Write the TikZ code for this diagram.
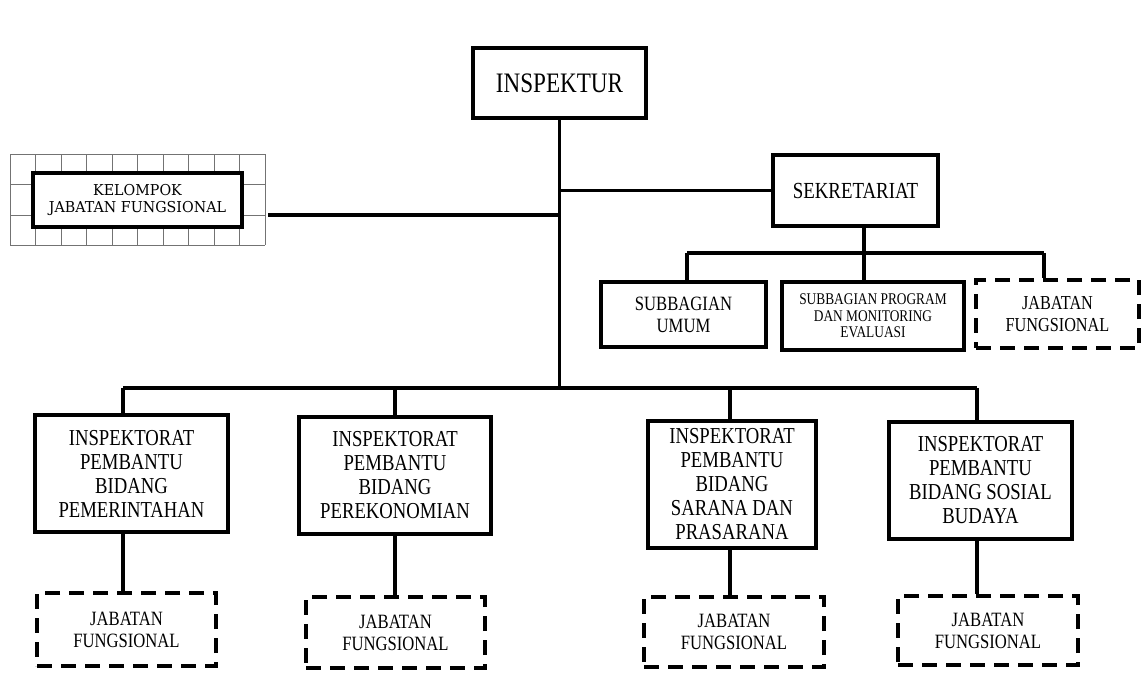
\documentclass[tikz,border=0pt]{standalone}
\usepackage{fontspec}
\setmainfont{Liberation Serif}[FakeStretch=0.82]
\newfontfamily\kjfont{DejaVu Serif}[FakeStretch=0.95]
\begin{document}
\begin{tikzpicture}[x=1pt,y=-1pt,
  box/.style={draw=black, line width=3.2pt, fill=white, inner sep=0pt, align=center},
  dbox/.style={draw=black, line width=3.5pt, dash pattern=on 15pt off 9pt, inner sep=0pt, align=center},
  conn/.style={draw=black, line width=3.2pt},
  gridline/.style={draw=black!55, line width=0.8pt},
  fbig/.style={font=\fontsize{22.8}{24}\selectfont},
  fjf/.style={font=\fontsize{20.3}{22}\selectfont},
]
\useasboundingbox (0,0) rectangle (1144,680);
\fill[white] (0,0) rectangle (1144,680);

% grid behind kelompok
\foreach \i in {0,...,10} {\draw[gridline] (10+25.5*\i,154) -- (10+25.5*\i,245);}
\foreach \j in {154,184.5,215,245} {\draw[gridline] (10,\j) -- (265,\j);}

% nodes
\node[box, minimum width=173pt, minimum height=70pt, font=\fontsize{28.2}{28}\selectfont] (insp) at (559.5,83) {INSPEKTUR};
\node[box, minimum width=165pt, minimum height=71pt, font=\fontsize{23}{24}\selectfont] (sek) at (855.5,190.5) {SEKRETARIAT};
\node[box, minimum width=209pt, minimum height=54pt, font=\kjfont\fontsize{15}{17.5}\selectfont] (kj) at (137.5,200) {KELOMPOK\\JABATAN FUNGSIONAL};

\node[box, minimum width=165pt, minimum height=65pt, font=\fontsize{20.3}{22}\selectfont] (su) at (683.5,314.5) {SUBBAGIAN\\UMUM};
\node[box, minimum width=182pt, minimum height=68pt, font=\fontsize{16.3}{16.5}\selectfont] (sp) at (873,316) {SUBBAGIAN PROGRAM\\DAN MONITORING\\EVALUASI};
\node[dbox, minimum width=163pt, minimum height=68pt, font=\fontsize{19.8}{22}\selectfont] (sj) at (1057.5,314) {JABATAN\\FUNGSIONAL};

\node[box, fbig, minimum width=193pt, minimum height=117pt] (b1) at (131.5,473.5) {INSPEKTORAT\\PEMBANTU\\BIDANG\\PEMERINTAHAN};
\node[box, fbig, minimum width=192pt, minimum height=117pt] (b2) at (395,475.5) {INSPEKTORAT\\PEMBANTU\\BIDANG\\PEREKONOMIAN};
\node[box, fbig, minimum width=168pt, minimum height=127pt] (b3) at (732,484.5) {INSPEKTORAT\\PEMBANTU\\BIDANG\\SARANA DAN\\PRASARANA};
\node[box, fbig, minimum width=183pt, minimum height=117pt] (b4) at (980.5,480.5) {INSPEKTORAT\\PEMBANTU\\BIDANG SOSIAL\\BUDAYA};

\node[dbox, fjf, minimum width=179pt, minimum height=73pt] (j1) at (126.5,629.5) {JABATAN\\FUNGSIONAL};
\node[dbox, fjf, minimum width=179pt, minimum height=71pt] (j2) at (395.5,632.5) {JABATAN\\FUNGSIONAL};
\node[dbox, fjf, minimum width=180pt, minimum height=70pt] (j3) at (734,632) {JABATAN\\FUNGSIONAL};
\node[dbox, fjf, minimum width=180pt, minimum height=69pt] (j4) at (988,630.5) {JABATAN\\FUNGSIONAL};

% coordinates for bus lines
\coordinate (d1) at (123,388);
\coordinate (d2) at (395,388);
\coordinate (d3) at (730,388);
\coordinate (d4) at (977,388);
\coordinate (kjr) at (268,215);
\coordinate (s1) at (687,253);
\coordinate (s2) at (864,253);
\coordinate (s3) at (1044,253);

% main tree
\draw[conn] (insp.south) -- (insp.south |- d1);
\draw[conn] (d1) -- (d4);
\draw[conn] (sek.west) -- (sek.west -| insp.south);
\draw[conn] (kjr) -- (kjr -| insp.south);
\draw[conn] (d1) -- (d1 |- b1.north);
\draw[conn] (d2) -- (d2 |- b2.north);
\draw[conn] (d3) -- (d3 |- b3.north);
\draw[conn] (d4) -- (d4 |- b4.north);
\draw[conn] (b1.south -| d1) -- (j1.north -| d1);
\draw[conn] (b2.south -| d2) -- (j2.north -| d2);
\draw[conn] (b3.south -| d3) -- (j3.north -| d3);
\draw[conn] (b4.south -| d4) -- (j4.north -| d4);

% sekretariat subtree
\draw[conn] (sek.south -| s2) -- (s2);
\draw[conn] (s1) -- (s3);
\draw[conn] (s1) -- (s1 |- su.north);
\draw[conn] (s2) -- (s2 |- sp.north);
\draw[conn] (s3) -- (s3 |- sj.north);
\end{tikzpicture}
\end{document}
